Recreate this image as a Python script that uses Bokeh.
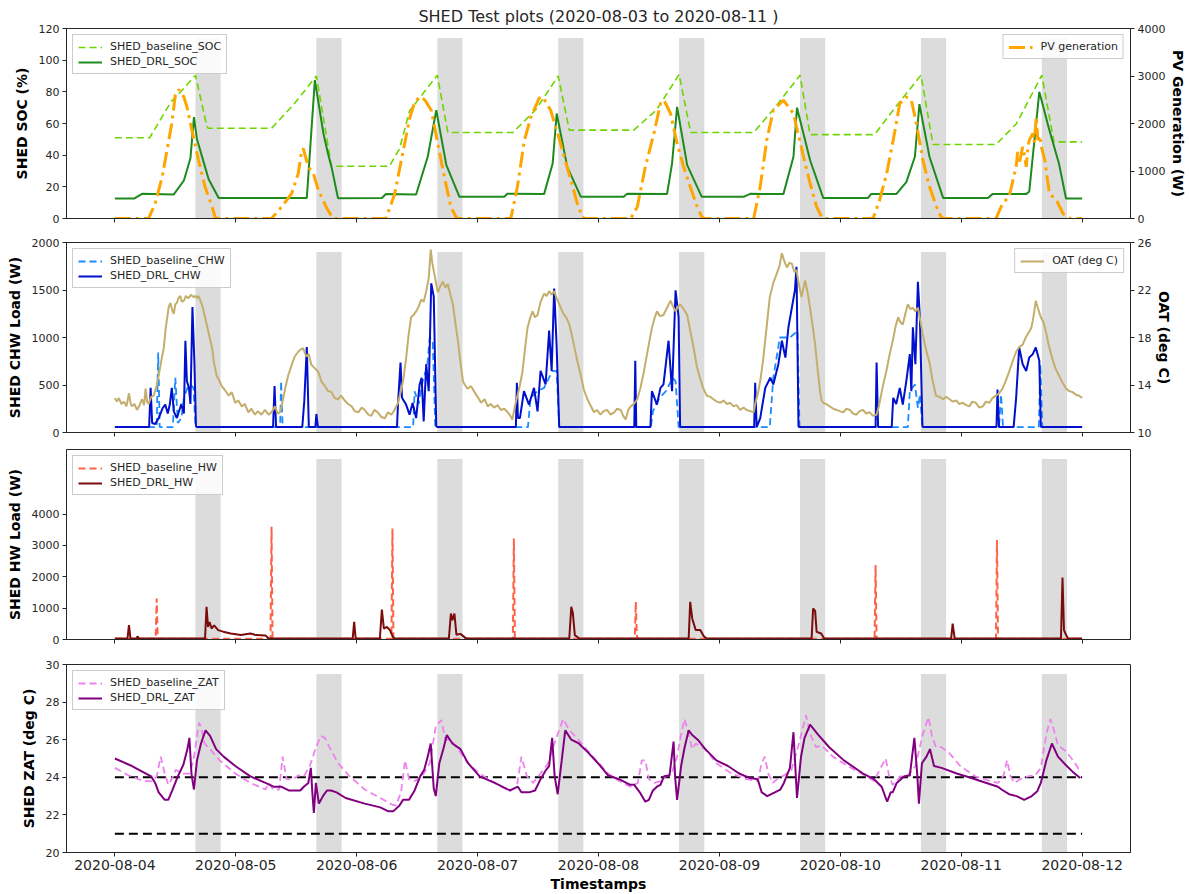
from datetime import datetime, timedelta
from bokeh.plotting import figure
from bokeh.models import (Range1d, LinearAxis, FixedTicker, DatetimeTickFormatter,
                          Legend, LegendItem)
from bokeh.layouts import column
from bokeh.embed import file_html
from bokeh.resources import INLINE

# ---------------- data (hours since 2020-08-04 00:00) ----------------
event_days = [0, 1, 2, 3, 4, 5, 6, 7]
event_start_hour = 16
event_end_hour = 21
day_ticks = [0, 1, 2, 3, 4, 5, 6, 7, 8]

soc_base_t = [0, 6.9, 11.2, 12.5, 16, 18.2, 18.5, 31.1, 35.5, 40, 43, 54.5, 56.5, 58.5, 64, 66.1,
              79, 83.5, 88, 90.2, 103, 107.5, 112, 114.3, 126.8, 131, 136, 138, 150.8, 155, 160,
              162.4, 174.9, 179, 184, 186.4, 192]
soc_base_v = [51, 51, 74, 78, 90.5, 59, 57, 57, 72, 90, 33, 33, 44, 68, 90.5, 54.3,
              54.3, 68.5, 90, 55.8, 55.8, 68.5, 91, 54.3, 54.3, 70, 90.5, 53, 53, 70.5, 90.5,
              46.7, 46.7, 60, 90.5, 48.4, 48.4]

soc_drl_t = [0, 3.8, 5.4, 11.7, 13.7, 15, 15.7, 16.3, 17.9, 18.6, 20.6, 38.1, 39.7, 41.4, 42.3, 43,
             44.3, 53, 53.8, 59.8, 62.1, 63.8, 65.8, 68.4, 77.3, 77.9, 85.2, 86.9, 87.7, 89.8,
             92.5, 101, 101.7, 109.6, 110.6, 111.6, 113.6, 116.5, 124.8, 126.1, 132.7, 134.7,
             135.4, 138, 140.6, 149.5, 150.1, 155.1, 157.1, 158.8, 159.7, 161.7, 164.4, 173.3,
             174.2, 180.9, 181.5, 183.5, 185.5, 187.4, 188.8, 192]
soc_drl_v = [12.6, 12.6, 15.6, 15.2, 24, 38, 64, 50, 32.6, 25, 13, 13, 87.4, 53.7, 41, 32.6,
             12.8, 13, 15.5, 15.2, 39, 68.4, 33.7, 13.7, 13.7, 15.6, 15.4, 34.7, 66.3, 32.6,
             13.7, 13.7, 15.6, 15.4, 34.7, 70.5, 33.7, 13.7, 13.7, 15.6, 15.4, 39,
             70, 36.8, 13, 13, 15.4, 15.4, 23, 39, 72.2, 39, 13, 13,
             15.4, 15.4, 17, 80, 55.8, 34.7, 12.6, 12.6]

pv_t = [0, 6.7, 8, 9.4, 10.7, 11.3, 12, 12.7, 13.7, 14.3, 15.3, 16.6, 17.9, 19.3, 19.9, 20.3,
        31.1, 33.1, 35.1, 36.4, 37.1, 37.4, 38.4, 39.4, 40.4, 42.1, 43.1, 43.5,
        53.8, 55.5, 57, 58.5, 59.5, 60.5, 61.5, 62.8, 64.1, 65.4, 66.7, 67.7, 68,
        78.6, 79.9, 81.3, 82.6, 84.2, 84.9, 86.5, 87.9, 89.2, 90.5, 91.8, 92.8, 93.2,
        102.4, 103.7, 105.3, 107, 108.3, 109, 110.3, 111.6, 112.9, 114.2, 115.6, 116.5, 117,
        126.8, 128.1, 129.4, 130.7, 132.7, 134.7, 135.3, 136.7, 138, 139.3, 140.3, 140.7,
        150.5, 151.8, 153.2, 154.5, 155.8, 157.1, 158.1, 159.1, 160.4, 161.7, 163.1, 164, 164.4,
        174.9, 176.2, 177.5, 178.9, 179.2, 179.5, 180.2, 180.6, 180.9, 181.2, 181.5, 182.2,
        182.5, 182.9, 183.2, 183.6, 183.9, 184.6, 185.5, 186.9, 188.2, 189.2, 189.6, 192]
pv_v = [0, 0, 316, 877, 1650, 2000, 2600, 2716, 2560, 2350, 1860, 1230, 667, 245, 35, 0,
        0, 245, 526, 947, 1440, 1470, 1088, 947, 597, 210, 35, 0,
        0, 500, 1300, 2100, 2450, 2560, 2500, 2280, 1580, 877, 245, 35, 0,
        0, 667, 1650, 2140, 2530, 2560, 2280, 1790, 1300, 807, 316, 35, 0,
        0, 245, 1088, 1790, 2420, 2490, 2210, 1580, 1088, 667, 245, 35, 0,
        0, 667, 1650, 2280, 2490, 2210, 1930, 1300, 737, 245, 35, 0,
        0, 386, 947, 1650, 2420, 2560, 2490, 2000, 1228, 667, 245, 35, 0,
        0, 316, 456, 1088, 1400, 1150, 1510, 1300, 1088, 1450, 1650, 1790,
        1600, 2140, 1650, 1750, 1510, 1228, 526, 386, 105, 35, 0, 0]

oat_t = [0, 0.4, 0.8, 1.3, 1.8, 2.3, 2.8, 3.1, 3.4, 3.9, 4.4, 4.9, 5.4, 5.8, 6.1, 6.4, 6.7, 7.2,
         7.7, 8.2, 8.7, 9.2, 9.7, 10.1, 10.4, 10.7, 11, 11.4, 11.7, 12, 12.3, 12.6, 13, 13.3,
         13.7, 14.1, 14.6, 15.1, 15.6, 16, 16.3, 16.6, 16.9, 17.4, 17.9, 18.6, 19.3, 19.7,
         20.2, 20.7, 21.2, 21.8, 22.6, 23.2, 23.9, 24.5, 25.2, 25.8, 26.5, 27.1, 27.8, 28.4,
         29.1, 29.8, 30.5, 31.1, 31.8, 32.3, 32.8, 33.3, 33.8, 34.4, 35.1, 35.7, 36.4, 36.9,
         37.4, 37.7, 38.1, 38.5, 39, 39.7, 40.4, 41, 41.7, 42.3, 43, 43.6, 44.3, 44.9, 45.6,
         46.3, 47, 47.6, 48.3, 49, 49.6, 50.3, 50.9, 51.5, 52.2, 52.9, 53.6, 54.2, 54.9, 55.5,
         56.2, 56.9, 57.3, 57.8, 58.3, 58.8, 59.3, 59.8, 60.3, 60.8, 61.3, 61.8, 62.3, 62.7,
         63.0, 63.4, 63.8, 64.1, 64.6, 65.1, 65.6, 66.1, 66.6, 67.1, 67.6, 68.1, 68.6, 69.1,
         69.5, 70, 70.7, 71.4, 72, 72.7, 73.4, 74, 74.6, 75.3, 76, 76.6, 77.3, 78, 78.5, 78.9,
         79.4, 79.9, 80.4, 80.9, 81.4, 81.9, 82.4, 82.9, 83.4, 83.9, 84.5, 85.2, 85.7, 86.2,
         86.7, 87.2, 87.7, 88.2, 88.7, 89.2, 89.7, 90.2, 90.6, 91.1, 91.8, 92.5, 93.1, 93.8,
         94.4, 95.1, 95.7, 96.4, 97, 97.7, 98.4, 99.1, 99.7, 100.4, 100.9, 101.4, 101.9,
         102.4, 103, 103.7, 104.3, 105, 105.8, 106.6, 107.1, 107.6, 108.2, 108.9, 109.6,
         110.3, 110.8, 111.3, 111.8, 112.2, 112.9, 113.6, 114.2, 114.9, 115.5, 116.2, 116.8,
         117.5, 118.2, 118.8, 119.5, 120.2, 120.8, 121.5, 122.1, 122.8, 123.4, 124.1, 124.8,
         125.4, 126.1, 126.8, 127.2, 127.7, 128.2, 128.7, 129.3, 130, 130.7, 131.4, 131.9,
         132.4, 132.9, 133.4, 133.9, 134.4, 134.9, 135.3, 135.8, 136.3, 136.6, 137, 137.5,
         138, 138.5, 139, 139.5, 140, 140.3, 140.6, 141.2, 141.9, 142.6, 143.3, 143.9, 144.6,
         145.2, 145.9, 146.5, 147.2, 147.8, 148.5, 149.1, 149.8, 150.5, 151.2, 151.7, 152.2,
         152.6, 153.1, 153.8, 154.5, 155, 155.5, 155.9, 156.4, 156.9, 157.4, 157.9, 158.4,
         158.9, 159.4, 159.9, 160.4, 161, 161.7, 162.3, 163, 163.7, 164.4, 165, 165.7, 166.3,
         167, 167.6, 168.3, 169, 169.6, 170.2, 170.9, 171.6, 172.3, 172.9, 173.6, 174.2,
         174.9, 175.5, 176.2, 176.8, 177.5, 178.2, 178.9, 179.5, 180.2, 180.8, 181.5, 181.9,
         182.2, 182.5, 182.8, 183.2, 183.8, 184.3, 184.8, 185.4, 186.1, 186.7, 187.4, 188.1,
         188.8, 189.4, 190.1, 190.7, 191.4, 192]
oat_v = [12.9, 12.6, 12.9, 12.4, 12.6, 12.2, 13.3, 12.5, 12.2, 12.4, 11.9, 12.3, 12.8, 12.3,
         13.7, 12.6, 12.4, 13.0, 13.1, 13.8, 14.8, 16.0, 17.1, 18.8, 19.7, 20.6, 20.9, 20.3,
         20.0, 20.8, 20.9, 21.3, 21.5, 21.0, 21.1, 21.5, 21.3, 21.6, 21.4, 21.5, 21.3, 21.5,
         21.2, 20.6, 19.7, 18.4, 17.1, 15.8, 14.8, 14.4, 13.9, 13.6, 13.1, 13.4, 12.5, 12.7,
         12.2, 12.4, 11.7, 12.0, 11.5, 11.8, 11.5, 11.9, 11.5, 11.7, 12.2, 11.6, 11.7, 12.6,
         13.7, 14.8, 15.7, 16.4, 16.8, 17.0, 17.1, 16.7, 16.4, 16.6, 15.7, 15.4, 15.1, 14.3,
         13.9, 13.5, 13.4, 12.9, 12.8, 13.1, 12.7, 12.4, 12.2, 11.8, 11.7, 12.1, 11.9, 11.5,
         11.4, 11.9, 11.7, 11.3, 11.2, 11.7, 11.5, 11.9,
         12.5, 13.7, 14.6, 16.2, 18.2, 19.7, 19.9, 20.2, 20.6, 21.2, 21.0, 21.9, 23.0, 25.4,
         24.3, 23.4, 22.5, 21.8, 22.3, 22.7, 22.2, 22.5, 21.6, 20.8, 19.2, 17.7, 15.9, 14.3,
         14.0, 13.7, 13.9, 13.4, 13.0, 12.5, 12.8, 12.2, 12.4, 12.1, 12.3, 11.9, 12.0, 11.7,
         11.4, 11.1, 12.2, 13.1, 14.0, 15.1, 17.0, 18.8, 19.6, 20.2, 19.7, 19.9, 21.0, 21.7,
         21.5, 21.9, 21.6, 21.9, 21.3, 20.8, 20.3, 19.9, 19.6, 19.1, 18.4, 17.4, 16.0, 14.8,
         13.6, 12.8, 12.3, 11.7, 11.9, 11.5, 11.8, 11.9, 11.5, 11.7, 12.0, 11.9, 11.4, 11.1,
         11.9, 12.2, 12.4, 12.8, 13.7, 15.1, 17.0, 18.8, 19.6, 20.2, 19.8, 19.9, 20.5, 21.1,
         20.6, 20.2, 20.6, 20.8, 20.4, 19.9, 18.6, 17.1, 15.6, 14.5, 13.7, 13.1, 13.0, 12.8,
         12.6, 12.5, 12.7, 12.4, 12.5, 12.2, 12.3, 11.9, 12.1, 11.9, 11.8, 11.7, 12.6, 13.4,
         14.6, 16.2, 18.6, 21.4, 22.6, 23.4, 24.0, 25.1, 24.4, 23.9, 24.3, 24.2, 23.5, 23.7,
         22.4, 21.4, 22.0, 22.8, 21.8, 20.5, 19.0, 17.4, 15.3, 13.4, 12.7, 12.5, 12.4, 12.2,
         12.0, 11.9, 11.8, 11.7, 12.0, 11.9, 11.6, 11.5, 11.8, 11.9, 11.6, 11.7, 11.4, 11.5,
         12.3, 13.4, 14.2, 15.1, 16.6, 17.9, 19.0, 19.7, 19.3, 19.1, 20.0, 20.8, 20.4, 20.5,
         20.2, 20.5, 19.4, 18.2, 17.0, 15.9, 14.4, 13.1, 13.0, 12.8, 13.0, 12.8, 12.6, 12.7,
         12.4, 12.5, 12.3, 12.2, 12.6, 12.5, 12.1, 12.2, 12.6, 12.5, 12.9, 13.1, 13.3, 13.7,
         14.3, 15.1, 16.0, 16.8, 17.2, 17.4, 18.0, 18.5, 18.8, 19.4, 20.2, 21.1, 20.5, 19.7,
         19.3, 18.5, 17.3, 16.2, 15.4, 14.8, 14.2, 13.7, 13.5, 13.4, 13.2, 13.1, 12.9]

chw_drl_t = [0, 6.8, 7.1, 7.4, 8, 8.7, 9.5, 10, 10.5, 10.9, 11.3, 11.7, 12.3, 13.2, 13.7, 14, 14.3,
             14.7, 15, 15.4, 15.8, 16.1, 16.4, 31.4, 31.7, 32, 37.2, 37.6, 38.1, 38.5, 39.8, 40,
             40.3, 56, 56.2, 56.7, 57, 57.8, 58.5, 59.1, 59.8, 60.5, 60.9, 61.3, 61.8, 62.3, 62.8,
             63.3, 63.8, 64.1, 79.6, 79.8, 80, 80.4, 81.2, 82.2, 83.2, 83.9, 84.5, 85.5, 86.2,
             86.7, 87.2, 87.7, 88.2, 88.4, 103.1, 103.3, 103.5, 106.3, 106.6, 107.6, 108.3, 108.9,
             109.9, 110.6, 111.3, 111.9, 112.2, 112.4, 126.9, 127.1, 127.4, 128.1, 129.1, 130.1,
             130.7, 131.7, 132.4, 133.1, 133.7, 134.4, 135, 135.3, 135.7, 135.9, 151, 151.2, 151.5,
             154.2, 154.5, 155.1, 155.8, 156.4, 157.1, 157.8, 158.1, 158.4, 158.9, 159.4, 159.8,
             160.3, 160.5, 175, 175.2, 175.5, 178.4, 178.9, 179.5, 180.2, 180.9, 181.5, 182.2,
             182.8, 183.5, 183.8, 184, 192]
chw_drl_v = [57, 57, 471, 100, 90, 150, 258, 294, 200, 294, 471, 223, 152, 300, 200, 966, 541,
             470, 300, 1320, 720, 64, 57, 57, 488, 57, 57, 330, 900, 57, 57, 195,
             57, 57, 300, 736, 365, 294, 188, 311, 152, 506, 577, 117, 719, 435, 1570,
             1430, 64, 57, 57, 524, 152, 152, 435, 294, 470, 223, 648, 506, 1073,
             648, 1515, 896, 64, 57, 57, 754, 57, 57, 435, 294, 470, 506,
             966, 435, 1497, 1214, 64, 57, 57, 524, 57, 152, 470, 577,
             506, 719, 966, 789, 1108, 1320, 1500, 1745, 64, 57, 57, 736, 57,
             57, 365, 300, 470, 294, 541, 825, 435, 1108, 719, 1586, 1200,
             64, 57, 57, 453, 57, 57, 365, 896, 719, 648, 789, 825,
             896, 754, 64, 57, 57]

chw_base_t = [0, 8.3, 8.6, 8.9, 11.5, 12, 12.5, 13.2, 13.7, 14.4, 15, 15.6, 16, 16.3,
              32.8, 33, 33.3, 59.2, 59.5, 60.3, 61.1, 62, 62.5, 63.1, 63.6,
              82, 82.5, 83.9, 85.2, 86.2, 86.9, 87.7, 88.2,
              106.4, 106.8, 108.1, 109.4, 110.7, 111.3, 111.9,
              130, 130.7, 132, 134, 135.5, 135.9,
              157.4, 157.8, 158.8, 159.4, 159.8, 160.3,
              175.5, 175.9, 176.3, 183.4, 183.7, 184.1, 192]
chw_base_v = [57, 57, 843, 57, 57, 577, 100, 152, 365, 470, 506, 470, 64, 57,
              57, 541, 57, 57, 435, 300, 541, 700, 1000, 966, 57,
              57, 365, 435, 470, 577, 648, 648, 57,
              57, 223, 365, 435, 577, 541, 57,
              57, 577, 1000, 1000, 1070, 57,
              57, 435, 506, 258, 400, 57,
              57, 400, 57, 57, 719, 57, 57]

hw_drl_t = [0, 2.5, 2.8, 3.1, 4.3, 4.5, 4.8, 17.9, 18.2, 18.5, 18.8, 19.2, 19.7, 20.5, 21.5, 23,
            25, 26.9, 28, 29.9, 30.5, 47.2, 47.5, 47.8, 52.6, 53, 53.4, 54, 54.6, 55.2, 55.5,
            66.3, 66.7, 67, 67.4, 67.8, 68.6, 69.5, 70, 90.2, 90.6, 90.9, 91.3, 91.8, 92.2,
            113.9, 114.2, 114.6, 115.3, 116.2, 116.9, 117.5, 138.3, 138.6, 139, 139.3, 140.2,
            140.8, 166, 166.3, 166.7, 187.8, 188.1, 188.4, 188.8, 189.2, 192]
hw_drl_v = [30, 30, 457, 30, 30, 100, 30, 30, 1043, 400, 560, 350, 450, 300, 250, 190,
            140, 190, 140, 130, 30, 30, 564, 30, 30, 957, 350, 400, 300, 80, 30,
            30, 830, 617, 830, 150, 180, 60, 30, 30, 1043, 850, 140, 80, 30,
            30, 1202, 670, 300, 300, 100, 30, 30, 990, 915, 245, 190,
            30, 30, 510, 30, 30, 1979, 300, 150, 30, 30]

hw_base_t = [0, 8.1, 8.3, 8.5, 30.9, 31.1, 31.3, 54.9, 55.1, 55.3, 79, 79.2, 79.4, 103.2, 103.4,
             103.6, 103.8, 150.8, 151, 151.2, 174.9, 175.1, 175.3, 192]
hw_base_v = [20, 20, 1308, 20, 20, 3596, 20, 20, 3543, 20, 20, 3224, 20, 20, 1202,
             150, 20, 20, 2373, 20, 20, 3170, 20, 20]

zat_drl_t = [0, 3.4, 7.2, 8, 8.7, 9.9, 10.6, 11.4, 12.5, 13.6, 14.4, 14.8, 15.2, 15.7, 16.3, 17.1,
             18, 18.9, 20.1, 21.6, 23.9, 26.9, 29.9, 31.5, 33, 34.5, 36.8, 37.5, 38.4, 38.9,
             39.2, 39.5, 39.9, 40.5, 41.3, 42.1, 42.9, 44, 45.8, 49.6, 52.7, 54.2, 55.3, 56.5,
             57.2, 58.4, 59.5, 60.6, 61.4, 62.1, 62.7, 63.3, 63.7, 64.4, 65.2, 65.9, 67, 68.6,
             70.1, 72.4, 75.4, 78.4, 80, 80.7, 82.2, 83.4, 84.5, 85.6, 86.2, 86.8, 87.3, 87.9,
             88.7, 89.4, 90.6, 92.1, 94, 95.9,
             97.9, 100.1, 102.3, 103.1, 104.2, 105.3, 106, 106.8, 107.6, 108.3, 109, 110.1,
             110.9, 111.2, 111.6, 112.4, 113.1, 113.9, 114.6, 115.7, 117.2, 119.4, 121.7, 123.9,
             126.1, 127.6, 128.4, 129.5, 131, 132.1, 132.8, 134, 134.7, 135.4, 136.2, 136.9,
             138, 139.5, 141.8, 144.7, 148.5, 150.7, 152.2, 153.3, 154, 154.4, 155.2, 156.7,
             157.8, 158.7, 159.3, 159.6, 160.2, 161.1, 161.8, 162.6, 164.1, 167.1, 170, 173,
             175.3, 176, 177.5, 179, 180.5, 182, 183.1, 183.8, 184.9, 186, 187.2, 188.7, 190.1,
             191.6]
zat_drl_v = [25.0, 24.6, 24.05, 23.7, 23.2, 22.8, 22.8, 23.3, 24.05, 24.67, 25.5, 26.1, 24.2,
             23.35, 24.9, 25.8, 26.5, 26.2, 25.5, 25.1, 24.6, 24.05, 23.7, 23.5, 23.5, 23.3,
             23.3, 23.5, 23.7, 24.5, 23.2, 22.1, 23.7, 22.6, 23.0, 23.3, 23.3, 23.2, 22.9,
             22.6, 22.4, 22.2, 22.2, 22.5, 22.8, 22.8, 23.3, 24.05, 24.4, 25.1, 25.8, 23.4,
             23.0, 24.75, 25.5, 26.25, 25.8, 25.5, 24.75, 24.05, 23.7, 23.3, 23.5, 23.2, 23.2,
             23.3, 23.9, 24.4, 24.6, 26.1, 24.05, 23.1, 24.9, 26.5, 26.0, 25.8, 25.3, 24.75,
             24.1, 23.9, 23.6, 23.6, 23.2, 22.7, 22.8, 23.3, 23.5, 23.6, 24.05, 24.1,
             25.9, 24.05, 22.8, 24.6, 25.6, 26.5, 26.25, 26.0, 25.5, 24.9, 24.6, 24.2,
             23.96, 23.9, 23.2, 23.0, 23.2, 23.35, 23.7, 24.5, 26.4, 22.9, 25.1, 26.1,
             26.8, 26.3, 25.6, 24.9, 24.2, 23.9, 23.5, 22.7, 23.2, 23.2, 23.7, 24.05,
             24.1, 26.1, 24.05, 22.6, 24.75, 25.1, 25.5, 24.6, 24.5, 24.2, 23.96, 23.7,
             23.5, 23.35, 23.1, 23.0, 22.8, 23.0, 23.26, 23.7, 24.9, 25.8, 25.1, 24.67, 24.3,
             23.96]

zat_base_t = [0, 2.7, 5.7, 7.2, 8.3, 9.1, 9.9, 10.6, 11.4, 12.1, 13.3, 14.8, 15.6, 16.7, 17.1,
              17.8, 18.9, 20.8, 23.9, 26.9, 29.9, 30.6, 31.4, 32.6, 33.3, 34.1, 35.3, 36.4,
              37.5, 38.7, 39.8, 40.9, 41.7, 42.8, 44.3, 46.6, 49.6, 52.7, 55, 55.8, 56.8, 57.6,
              58.4, 59.5, 61, 62.5, 63.7, 64.8, 65.6, 66.7, 67.8, 70.1, 72.4, 75.4, 78.4, 79.8,
              80.7, 81.8, 83, 84.5, 86, 87.5, 89, 90.2, 91.3, 93.6, 95.9,
              97.9, 100.1, 102.3, 103.8, 104.6, 105.3, 106, 107.1, 108.3, 109.4, 110.5, 111.6,
              112.4, 113.1, 113.9, 114.6, 115.3, 117.2, 119.4, 122.4, 125.4, 127.6, 128.4, 129,
              129.7, 130.6, 131.7, 132.8, 134.3, 135.8, 137.2, 138, 139.2, 140.3, 142.5, 145.5,
              149.2, 150.7, 151.8, 153, 153.7, 154.4, 155.2, 155.9, 157.4, 158.9, 160.4, 161.5,
              162.2, 163, 164.1, 165.6, 167.8, 170.8, 173.8, 175.3, 176.4, 177.1, 177.8, 178.6,
              179.7, 181.2, 182.7, 183.8, 184.9, 185.7, 186.4, 187.2, 188.7, 190.5, 191.6]
zat_base_v = [24.5, 24.1, 23.8, 23.8, 24.05, 25.1, 24.2, 23.6, 23.96, 24.4, 24.2, 24.2, 24.9,
              26.9, 26.7, 25.8, 25.5, 24.9, 24.2, 23.7, 23.35, 23.7, 23.35, 23.35, 25.1, 23.9,
              23.9, 24.1, 24.05, 24.6, 25.5, 26.2, 26.1, 25.5, 24.75, 24.05, 23.35, 22.9,
              22.55, 22.5, 23.2, 24.9, 23.9, 23.8, 24.05, 24.75, 26.7, 27.05, 26.0, 26.0, 25.6,
              24.75, 24.2, 23.7, 23.26, 23.5, 25.1, 24.05, 23.7, 24.2, 24.75, 26.0, 27.1, 26.5,
              26.2, 25.5, 24.8,
              24.2, 23.8, 23.5, 23.7, 24.9, 24.9, 23.9, 23.7, 23.8, 24.05, 24.2, 25.1,
              26.3, 27.1, 26.3, 25.5, 25.8, 25.5, 24.75, 24.2, 23.9, 23.8, 24.75, 25.1,
              24.2, 23.7, 23.96, 24.1, 24.4, 25.8, 27.3, 26.3, 25.6, 25.7, 25.1, 24.6,
              24.05, 23.8, 24.4, 25.0, 24.05, 23.6, 23.8, 24.05, 24.1, 24.6, 26.3, 27.2,
              26.2, 25.6, 25.6, 25.3, 24.6, 24.05, 23.8, 23.7, 24.1, 24.9, 24.05, 23.7,
              23.9, 24.05, 24.1, 24.5, 26.3, 27.1, 26.5, 25.7, 25.4, 24.8, 24.3]

zat_upper_limit = 24
zat_lower_limit = 21

# ---------------- helpers ----------------
BASE = datetime(2020, 8, 4)
FONT = "DejaVu Sans"
INK = "#262626"


def to_dt(hours):
    return [BASE + timedelta(hours=h) for h in hours]


x_start = BASE - timedelta(days=0.4)
x_end = BASE + timedelta(days=8.4)
tick_ms = [(BASE + timedelta(days=d) - datetime(1970, 1, 1)).total_seconds() * 1000 for d in day_ticks]

W = 1189
ML, MR = 66, 56


def style_axis(ax):
    ax.axis_line_color = INK
    ax.major_tick_line_color = INK
    ax.minor_tick_line_color = None
    ax.major_tick_out = 4
    ax.major_tick_in = 0
    ax.major_label_text_font = FONT
    ax.major_label_text_color = INK
    ax.axis_label_text_font = FONT
    ax.axis_label_text_font_style = "bold"
    ax.axis_label_text_color = "black"


def make_fig(height, ymin, ymax, yticks, ylabel, top, bottom, show_x=False):
    p = figure(width=W, height=height, x_axis_type="datetime",
               x_range=Range1d(x_start, x_end), y_range=Range1d(ymin, ymax),
               output_backend="svg", toolbar_location=None,
               min_border_left=ML, min_border_right=MR,
               min_border_top=top, min_border_bottom=bottom)
    p.xgrid.visible = False
    p.ygrid.visible = False
    p.outline_line_color = INK
    p.outline_line_width = 1
    p.outline_line_alpha = 1
    p.background_fill_color = "white"
    p.border_fill_color = "white"
    p.xaxis.ticker = FixedTicker(ticks=tick_ms)
    fmt = "%Y-%m-%d"
    p.xaxis.formatter = DatetimeTickFormatter(days=fmt, months=fmt, hours=fmt, years=fmt,
                                              minutes=fmt, hourmin=fmt)
    p.yaxis.ticker = FixedTicker(ticks=yticks)
    for ax in p.xaxis + p.yaxis:
        style_axis(ax)
    p.yaxis.major_label_text_font_size = "11px"
    p.yaxis.major_label_standoff = 3
    p.yaxis.axis_label = ylabel
    p.yaxis.axis_label_text_font_size = "14px"
    p.yaxis.axis_label_standoff = 6
    if show_x:
        p.xaxis.major_label_text_font_size = "14px"
        p.xaxis.major_label_standoff = 3
        p.xaxis.axis_label = "Timestamps"
        p.xaxis.axis_label_text_font_size = "14px"
        p.xaxis.axis_label_standoff = 3
    else:
        # tick marks only, labels not painted
        p.xaxis.major_label_text_color = None
        p.xaxis.major_label_text_font_size = "1px"
        p.xaxis.major_label_standoff = 0
    # shaded event windows
    p.quad(left=[BASE + timedelta(days=d, hours=event_start_hour) for d in event_days],
           right=[BASE + timedelta(days=d, hours=event_end_hour) for d in event_days],
           bottom=ymin, top=ymin + 0.95 * (ymax - ymin),
           fill_color="#dcdcdc", fill_alpha=1, line_color=None)
    return p


def right_axis(p, name, lo, hi, ticks, label):
    p.extra_y_ranges = {name: Range1d(lo, hi)}
    ax = LinearAxis(y_range_name=name, axis_label=label, ticker=FixedTicker(ticks=ticks))
    style_axis(ax)
    ax.major_label_text_font_size = "11px"
    ax.major_label_standoff = 3
    ax.axis_label_text_font_size = "14px"
    ax.axis_label_standoff = 2
    ax.axis_label_orientation = "vertical"
    p.add_layout(ax, "right")


def add_legend(p, items, loc):
    leg = Legend(items=[LegendItem(label=l, renderers=[r]) for l, r in items], location=loc)
    leg.label_text_font = FONT
    leg.label_text_font_size = "11px"
    leg.label_text_color = INK
    leg.label_height = 12
    leg.glyph_height = 12
    leg.glyph_width = 24
    leg.spacing = 2
    leg.padding = 5
    leg.margin = 6
    leg.label_standoff = 8
    leg.border_line_color = "#cccccc"
    leg.border_line_alpha = 1
    leg.background_fill_alpha = 0.85
    p.add_layout(leg)


# ---------------- panel 1: SOC / PV ----------------
p1 = make_fig(230, 0, 120, [0, 20, 40, 60, 80, 100, 120], "SHED SOC (%)", 28, 12)
p1.title.text = "SHED Test plots (2020-08-03 to 2020-08-11 )"
p1.title.align = "center"
p1.title.text_font = FONT
p1.title.text_font_size = "16px"
p1.title.text_font_style = "normal"
p1.title.text_color = INK
p1.title.standoff = 5
right_axis(p1, "pv", 0, 4000, [0, 1000, 2000, 3000, 4000], "PV Generation (W)")
r_sb = p1.line(to_dt(soc_base_t), soc_base_v, line_color="#6fd500", line_width=1.6, line_dash="7 4")
r_sd = p1.line(to_dt(soc_drl_t), soc_drl_v, line_color="#1e8a1e", line_width=2)
r_pv = p1.line(to_dt(pv_t), pv_v, y_range_name="pv", line_color="orange", line_width=3,
               line_dash="16 5 3 5")
add_legend(p1, [("SHED_baseline_SOC", r_sb), ("SHED_DRL_SOC", r_sd)], "top_left")
add_legend(p1, [("PV generation", r_pv)], "top_right")

# ---------------- panel 2: CHW / OAT ----------------
p2 = make_fig(211, 0, 2000, [0, 500, 1000, 1500, 2000], "SHED CHW Load (W)", 12, 9)
right_axis(p2, "oat", 10, 26, [10, 14, 18, 22, 26], "OAT (deg C)")
r_cb = p2.line(to_dt(chw_base_t), chw_base_v, line_color="#1a8cff", line_width=1.8, line_dash="7 4")
r_cd = p2.line(to_dt(chw_drl_t), chw_drl_v, line_color="#0010cc", line_width=2)
r_oat = p2.line(to_dt(oat_t), oat_v, y_range_name="oat", line_color="#c4ae6c", line_width=2)
add_legend(p2, [("SHED_baseline_CHW", r_cb), ("SHED_DRL_CHW", r_cd)], "top_left")
add_legend(p2, [("OAT (deg C)", r_oat)], "top_right")

# ---------------- panel 3: HW ----------------
p3 = make_fig(210, 0, 6060, [0, 1000, 2000, 3000, 4000], "SHED HW Load (W)", 8, 12)
r_hb = p3.line(to_dt(hw_base_t), hw_base_v, line_color="#ff6347", line_width=2, line_dash="7 4")
r_hd = p3.line(to_dt(hw_drl_t), hw_drl_v, line_color="#7a0c0c", line_width=2)
add_legend(p3, [("SHED_baseline_HW", r_hb), ("SHED_DRL_HW", r_hd)], "top_left")

# ---------------- panel 4: ZAT ----------------
p4 = make_fig(243, 20, 30, [20, 22, 24, 26, 28, 30], "SHED ZAT (deg C)", 13, 41, show_x=True)
lim_x = [BASE, BASE + timedelta(days=day_ticks[-1])]
p4.line(lim_x, [zat_upper_limit] * 2, line_color="black", line_width=2, line_dash="9 5")
p4.line(lim_x, [zat_lower_limit] * 2, line_color="black", line_width=2, line_dash="9 5")
r_zb = p4.line(to_dt(zat_base_t), zat_base_v, line_color="#ee82ee", line_width=1.8, line_dash="7 4")
r_zd = p4.line(to_dt(zat_drl_t), zat_drl_v, line_color="#800080", line_width=2)
add_legend(p4, [("SHED_baseline_ZAT", r_zb), ("SHED_DRL_ZAT", r_zd)], "top_left")

layout = column(p1, p2, p3, p4, spacing=0)
open("out.html", "w").write(file_html(layout, INLINE))
